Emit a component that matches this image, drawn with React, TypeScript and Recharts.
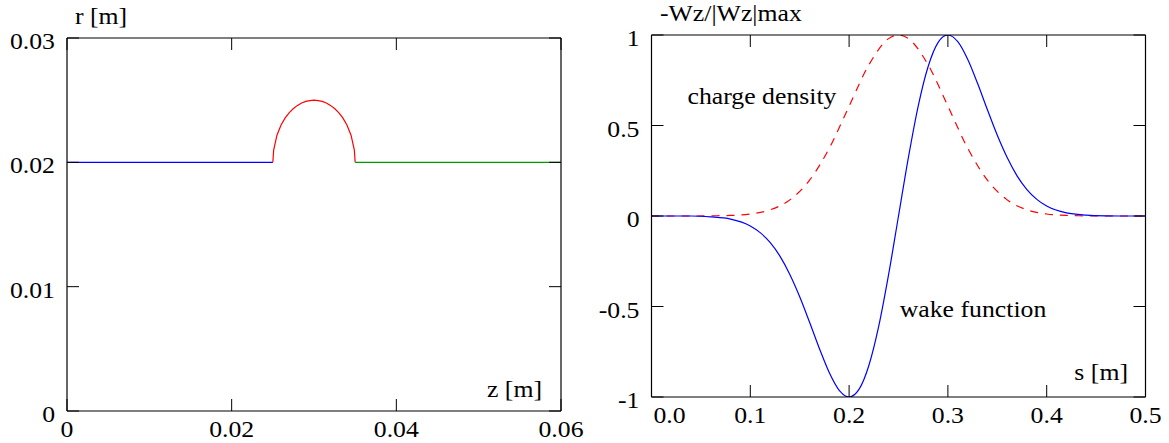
import React from 'react';
import { LineChart, Line, XAxis, YAxis } from 'recharts';

const FONT = '"Liberation Serif", "DejaVu Serif", serif';
const FS = 23;
const SX = 1.12;
const TL = 12;

// ---------- Left chart (geometry r(z)) ----------
const leftXTicks = [0, 0.02, 0.04, 0.06];
const leftXLabels = ['0', '0.02', '0.04', '0.06'];
const leftYTicks = [0, 0.01, 0.02, 0.03];
const leftYLabels = ['0', '0.01', '0.02', '0.03'];

const pipeInZ = [0, 0.025];
const pipeInR = [0.02, 0.02];
const cavityZ = [0.025, 0.0251, 0.0255, 0.026, 0.0265, 0.027, 0.0275, 0.028, 0.0285, 0.029, 0.0295, 0.03,
  0.0305, 0.031, 0.0315, 0.032, 0.0325, 0.033, 0.0335, 0.034, 0.0345, 0.0349, 0.035];
const cavityR = [0.02, 0.02099, 0.02218, 0.023, 0.02357, 0.024, 0.02433, 0.02458, 0.02477, 0.0249, 0.02497, 0.025,
  0.02497, 0.0249, 0.02477, 0.02458, 0.02433, 0.024, 0.02357, 0.023, 0.02218, 0.02099, 0.02];
const pipeOutZ = [0.035, 0.06];
const pipeOutR = [0.02, 0.02];

// ---------- Right chart (wake) ----------
const sTicks = [0, 0.1, 0.2, 0.3, 0.4, 0.5];
const sLabels = ['0.0', '0.1', '0.2', '0.3', '0.4', '0.5'];
const wTicks = [-1, -0.5, 0, 0.5, 1];
const wLabels = ['-1', '-0.5', '0', '0.5', '1'];

const wakeS = [0, 0.02, 0.04, 0.06, 0.08, 0.1, 0.11, 0.12, 0.13, 0.14, 0.15, 0.16, 0.17, 0.18, 0.19, 0.2, 0.21, 0.22,
  0.23, 0.24, 0.25, 0.26, 0.27, 0.28, 0.29, 0.3, 0.31, 0.32, 0.33, 0.34, 0.35, 0.36, 0.37, 0.38, 0.39, 0.4, 0.42,
  0.44, 0.46, 0.48, 0.5];
const wakeW = [0, 0, 0, -0.005, -0.017, -0.055, -0.092, -0.146, -0.222, -0.323, -0.446, -0.587, -0.733, -0.866,
  -0.963, -1, -0.958, -0.826, -0.609, -0.323, 0, 0.323, 0.609, 0.826, 0.958, 1, 0.963, 0.866, 0.733, 0.587, 0.446,
  0.323, 0.222, 0.146, 0.092, 0.055, 0.017, 0.005, 0.001, 0, 0];

const rhoS = [0, 0.02, 0.04, 0.06, 0.08, 0.1, 0.12, 0.14, 0.16, 0.18, 0.2, 0.22, 0.24, 0.25, 0.26, 0.28, 0.3, 0.32,
  0.34, 0.36, 0.38, 0.4, 0.42, 0.44, 0.46, 0.48, 0.5];
const rhoV = [0, 0, 0, 0.001, 0.003, 0.011, 0.034, 0.089, 0.198, 0.375, 0.607, 0.835, 0.98, 1, 0.98, 0.835, 0.607,
  0.375, 0.198, 0.089, 0.034, 0.011, 0.003, 0.001, 0, 0, 0];

const zip = (xs: number[], ys: number[], kx: string, ky: string) =>
  xs.map((x, i) => ({ [kx]: x, [ky]: ys[i] }));

const pipeInData = zip(pipeInZ, pipeInR, 'z', 'r');
const cavityData = zip(cavityZ, cavityR, 'z', 'r');
const pipeOutData = zip(pipeOutZ, pipeOutR, 'z', 'r');
const wakeData = zip(wakeS, wakeW, 's', 'w');
const rhoData = zip(rhoS, rhoV, 's', 'w');

function T({ x, y, anchor = 'start', children }: any) {
  return (
    <text
      transform={`translate(${x},${y}) scale(${SX},1)`}
      textAnchor={anchor}
      style={{ fontFamily: FONT, fontSize: FS }}
      fill="#000"
    >
      {children}
    </text>
  );
}

const bottomTick = (ticks: number[], labels: string[], firstDx = 0) => (props: any) => {
  const { x, y, payload } = props;
  const i = ticks.indexOf(payload.value);
  return (
    <g>
      <line x1={x} y1={y} x2={x} y2={y - TL} stroke="#000" />
      <T x={x + (i === 0 ? firstDx : 0)} y={y + 26} anchor="middle">{labels[i]}</T>
    </g>
  );
};
const leftTick = (ticks: number[], labels: string[]) => (props: any) => {
  const { x, y, payload } = props;
  const i = ticks.indexOf(payload.value);
  return (
    <g>
      <line x1={x + 12} y1={y} x2={x + 12 + TL} y2={y} stroke="#000" />
      <T x={x} y={y + 11} anchor="end">{labels[i]}</T>
    </g>
  );
};
const topTick = (props: any) => {
  const { x, y } = props;
  return <line x1={x} y1={y} x2={x} y2={y + TL} stroke="#000" />;
};
const rightTick = (props: any) => {
  const { x, y } = props;
  return <line x1={x} y1={y} x2={x - TL} y2={y} stroke="#000" />;
};

const axisLine = { stroke: '#000', strokeWidth: 1.2 };

export default function App() {
  return (
    <div style={{ position: 'absolute', left: 0, top: 0, width: 1169, height: 443, background: '#fff' }}>
      <div style={{ position: 'absolute', left: 0, top: 0 }}>
        <LineChart width={600} height={443} margin={{ top: 37, right: 38, bottom: 31, left: 66 }}>
          <XAxis dataKey="z" type="number" domain={[0, 0.06]} ticks={leftXTicks} interval={0} height={1}
            tickSize={0} tickMargin={0} axisLine={axisLine} tickLine={false}
            tick={bottomTick(leftXTicks, leftXLabels)} allowDataOverflow />
          <XAxis xAxisId="top" orientation="top" dataKey="z" type="number" domain={[0, 0.06]} ticks={leftXTicks}
            interval={0} height={1} tickSize={0} tickMargin={0} axisLine={axisLine} tickLine={false} tick={topTick}
            allowDataOverflow />
          <YAxis type="number" domain={[0, 0.03]} ticks={leftYTicks} interval={0} width={1} tickSize={0}
            tickMargin={12} axisLine={axisLine} tickLine={false} tick={leftTick(leftYTicks, leftYLabels)}
            allowDataOverflow />
          <YAxis yAxisId="right" orientation="right" type="number" domain={[0, 0.03]} ticks={leftYTicks} interval={0}
            width={1} tickSize={0} tickMargin={0} axisLine={axisLine} tickLine={false} tick={rightTick}
            allowDataOverflow />
          <Line data={pipeInData} dataKey="r" type="linear" stroke="#0000ff" strokeWidth={1.2} dot={false}
            activeDot={false} isAnimationActive={false} />
          <Line data={cavityData} dataKey="r" type="linear" stroke="#ff0000" strokeWidth={1.2} dot={false}
            activeDot={false} isAnimationActive={false} />
          <Line data={pipeOutData} dataKey="r" type="linear" stroke="#009900" strokeWidth={1.2} dot={false}
            activeDot={false} isAnimationActive={false} />
        </LineChart>
      </div>
      <div style={{ position: 'absolute', left: 580, top: 0 }}>
        <LineChart width={589} height={443} margin={{ top: 34, right: 22.5, bottom: 45, left: 70.5 }}>
          <XAxis dataKey="s" type="number" domain={[0, 0.5]} ticks={sTicks} interval={0} height={1}
            tickSize={0} tickMargin={0} axisLine={axisLine} tickLine={false}
            tick={bottomTick(sTicks, sLabels, 18)} allowDataOverflow />
          <XAxis xAxisId="top" orientation="top" dataKey="s" type="number" domain={[0, 0.5]} ticks={sTicks}
            interval={0} height={1} tickSize={0} tickMargin={0} axisLine={axisLine} tickLine={false} tick={topTick}
            allowDataOverflow />
          <YAxis type="number" domain={[-1, 1]} ticks={wTicks} interval={0} width={1} tickSize={0}
            tickMargin={12} axisLine={axisLine} tickLine={false} tick={leftTick(wTicks, wLabels)}
            allowDataOverflow />
          <YAxis yAxisId="right" orientation="right" type="number" domain={[-1, 1]} ticks={wTicks} interval={0}
            width={1} tickSize={0} tickMargin={0} axisLine={axisLine} tickLine={false} tick={rightTick}
            allowDataOverflow />
          <Line data={rhoData} dataKey="w" type="monotone" stroke="#ff0000" strokeWidth={1.2}
            strokeDasharray="8 7" dot={false} activeDot={false} isAnimationActive={false} />
          <Line data={wakeData} dataKey="w" type="monotone" stroke="#0000ff" strokeWidth={1.2} dot={false}
            activeDot={false} isAnimationActive={false} />
        </LineChart>
      </div>
      <svg width={1169} height={443} style={{ position: 'absolute', left: 0, top: 0, pointerEvents: 'none' }}>
        <T x={75} y={24}>r [m]</T>
        <T x={542} y={397} anchor="end">z [m]</T>
        <T x={660} y={21}>-Wz/|Wz|max</T>
        <T x={1128} y={380} anchor="end">s [m]</T>
        <T x={762} y={104} anchor="middle">charge density</T>
        <T x={973} y={317} anchor="middle">wake function</T>
      </svg>
    </div>
  );
}
